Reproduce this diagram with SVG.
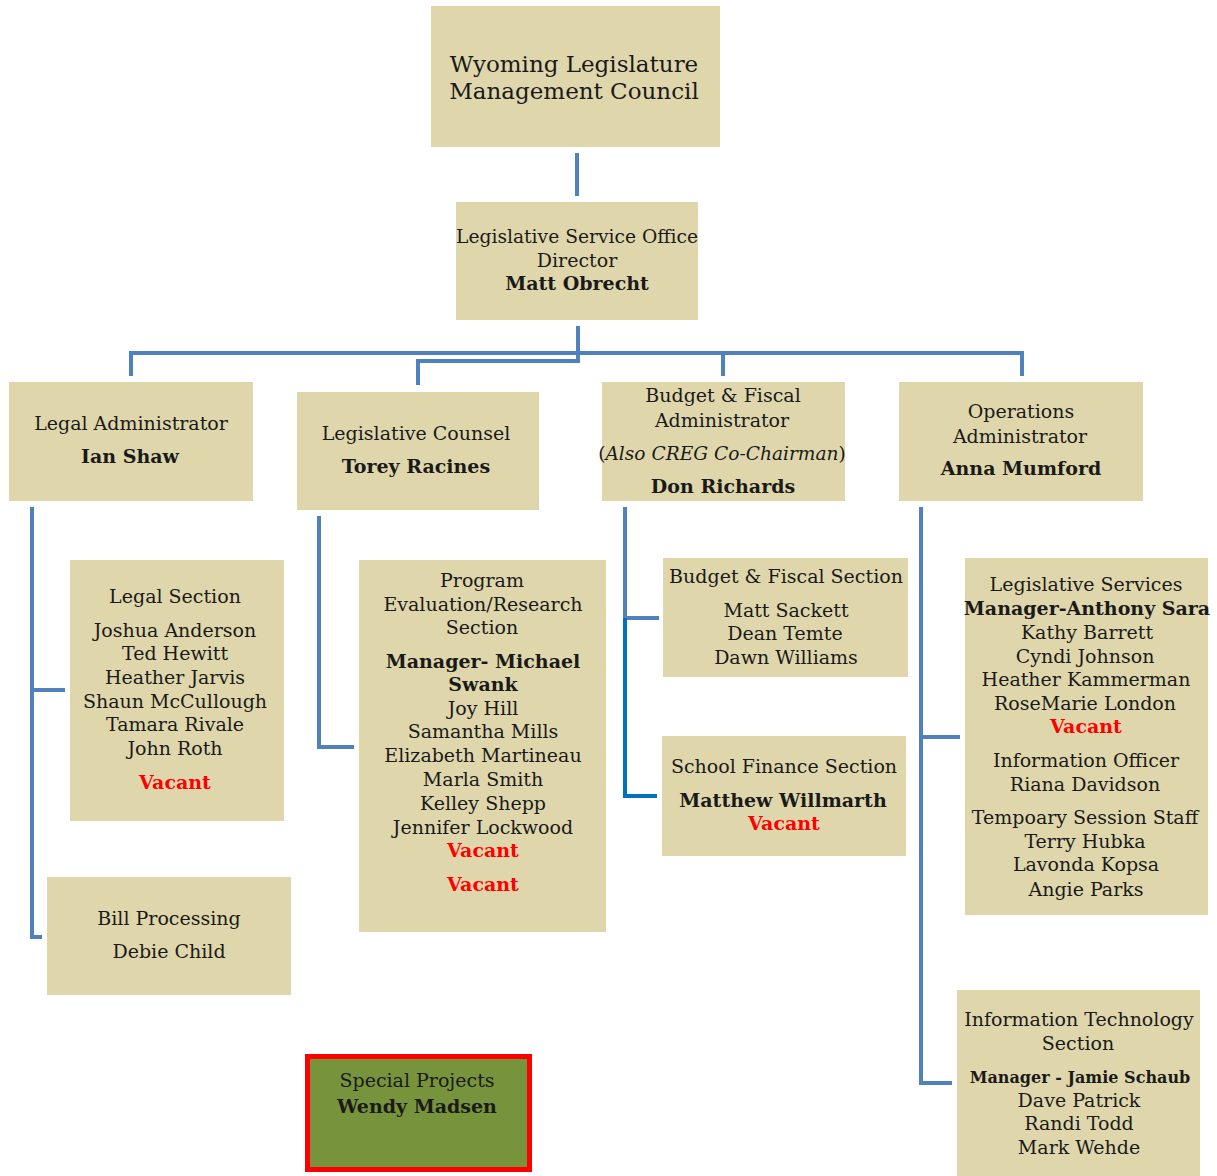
<svg xmlns="http://www.w3.org/2000/svg" width="1217" height="1176" viewBox="0 0 1217 1176">
<style>
.box{fill:#DFD7AB}
text{font-family:"DejaVu Serif","Liberation Serif",serif;font-size:19px;fill:#1a1a1a;text-anchor:middle}
.b{font-weight:bold}
.r{fill:#FF0000;font-weight:bold}
.i{font-style:italic}
.big{font-size:23px}
.c{fill:none;stroke:#4F81BD;stroke-width:4}
.c2{fill:none;stroke:#0070C0;stroke-width:4}
</style>
<rect width="1217" height="1176" fill="#FFFFFF"/>
<g id="connectors">
<path class="c" d="M577 153 V196"/>
<path class="c" d="M578 326 V356"/>
<path class="c" d="M131 376 V353 H1022 V376"/>
<path class="c" d="M723 353 V376"/>
<path class="c" d="M578 353 V361 H418 V385"/>
<path class="c" d="M32 507 V937 H42"/>
<path class="c" d="M32 690 H65"/>
<path class="c" d="M319 516 V747 H354"/>
<path class="c" d="M625 507 V618 H659"/>
<path class="c2" d="M625 618 V796 H657"/>
<path class="c" d="M921 507 V1083 H952"/>
<path class="c" d="M921 737 H960"/>
</g>
<g id="council">
<rect class="box" x="431" y="6" width="289" height="141"/>
<text class="big" x="574" y="72">Wyoming Legislature</text>
<text class="big" x="574" y="99">Management Council</text>
</g>
<g id="director">
<rect class="box" x="456" y="202" width="242" height="118"/>
<text x="577" y="243" style="font-size:18.7px">Legislative Service Office</text>
<text x="577" y="267">Director</text>
<text class="b" x="577" y="290">Matt Obrecht</text>
</g>
<g id="legal-admin">
<rect class="box" x="9" y="382" width="244" height="119"/>
<text x="131" y="430">Legal Administrator</text>
<text class="b" x="130" y="463">Ian Shaw</text>
</g>
<g id="legislative-counsel">
<rect class="box" x="297" y="392" width="242" height="118"/>
<text x="416" y="440">Legislative Counsel</text>
<text class="b" x="416" y="473">Torey Racines</text>
</g>
<g id="budget-admin">
<rect class="box" x="602" y="382" width="243" height="119"/>
<text x="723" y="402">Budget &amp; Fiscal</text>
<text x="722" y="427">Administrator</text>
<text x="722" y="460" style="font-size:18.6px">(<tspan class="i">Also CREG Co-Chairman</tspan>)</text>
<text class="b" x="723" y="493">Don Richards</text>
</g>
<g id="operations-admin">
<rect class="box" x="899" y="382" width="244" height="119"/>
<text x="1021" y="418">Operations</text>
<text x="1020" y="443">Administrator</text>
<text class="b" x="1021" y="475">Anna Mumford</text>
</g>
<g id="legal-section">
<rect class="box" x="70" y="560" width="214" height="261"/>
<text x="175" y="603">Legal Section</text>
<text x="175" y="637">Joshua Anderson</text>
<text x="175" y="660">Ted Hewitt</text>
<text x="175" y="684">Heather Jarvis</text>
<text x="175" y="708">Shaun McCullough</text>
<text x="175" y="731">Tamara Rivale</text>
<text x="175" y="755">John Roth</text>
<text class="r" x="175" y="789">Vacant</text>
</g>
<g id="bill-processing">
<rect class="box" x="47" y="877" width="244" height="118"/>
<text x="169" y="925">Bill Processing</text>
<text x="169" y="958">Debie Child</text>
</g>
<g id="program-evaluation">
<rect class="box" x="359" y="560" width="247" height="372"/>
<text x="482" y="587">Program</text>
<text x="483" y="611">Evaluation/Research</text>
<text x="482" y="634">Section</text>
<text class="b" x="483" y="668">Manager- Michael</text>
<text class="b" x="483" y="691">Swank</text>
<text x="483" y="715">Joy Hill</text>
<text x="483" y="738">Samantha  Mills</text>
<text x="483" y="762">Elizabeth Martineau</text>
<text x="483" y="786">Marla Smith</text>
<text x="483" y="810">Kelley Shepp</text>
<text x="483" y="834">Jennifer Lockwood</text>
<text class="r" x="483" y="857">Vacant</text>
<text class="r" x="483" y="891">Vacant</text>
</g>
<g id="budget-section">
<rect class="box" x="663" y="558" width="245" height="119"/>
<text x="786" y="583">Budget &amp; Fiscal Section</text>
<text x="786" y="617">Matt Sackett</text>
<text x="785" y="640">Dean Temte</text>
<text x="786" y="664">Dawn Williams</text>
</g>
<g id="school-finance">
<rect class="box" x="662" y="736" width="244" height="120"/>
<text x="784" y="773">School Finance Section</text>
<text class="b" x="783" y="807">Matthew Willmarth</text>
<text class="r" x="784" y="830">Vacant</text>
</g>
<g id="legislative-services">
<rect class="box" x="965" y="558" width="243" height="357"/>
<text x="1086" y="591">Legislative Services</text>
<text class="b" x="1087" y="615">Manager-Anthony Sara</text>
<text x="1087" y="639">Kathy Barrett</text>
<text x="1085" y="663">Cyndi Johnson</text>
<text x="1086" y="686">Heather Kammerman</text>
<text x="1085" y="710">RoseMarie London</text>
<text class="r" x="1086" y="733">Vacant</text>
<text x="1086" y="767">Information Officer</text>
<text x="1085" y="791">Riana Davidson</text>
<text x="1085" y="824">Tempoary Session Staff</text>
<text x="1085" y="848">Terry Hubka</text>
<text x="1086" y="871">Lavonda Kopsa</text>
<text x="1086" y="896">Angie Parks</text>
</g>
<g id="information-technology">
<rect class="box" x="957" y="990" width="243" height="186"/>
<text x="1079" y="1026">Information Technology</text>
<text x="1078" y="1050">Section</text>
<text class="b" x="1080" y="1083" style="font-size:16px">Manager - Jamie Schaub</text>
<text x="1079" y="1107">Dave Patrick</text>
<text x="1079" y="1130">Randi Todd</text>
<text x="1079" y="1154">Mark Wehde</text>
</g>
<g id="special-projects">
<rect x="307.5" y="1056.5" width="222" height="113" fill="#77933C" stroke="#FF0000" stroke-width="5"/>
<text x="417" y="1087">Special Projects</text>
<text class="b" x="417" y="1113">Wendy Madsen</text>
</g>
</svg>
